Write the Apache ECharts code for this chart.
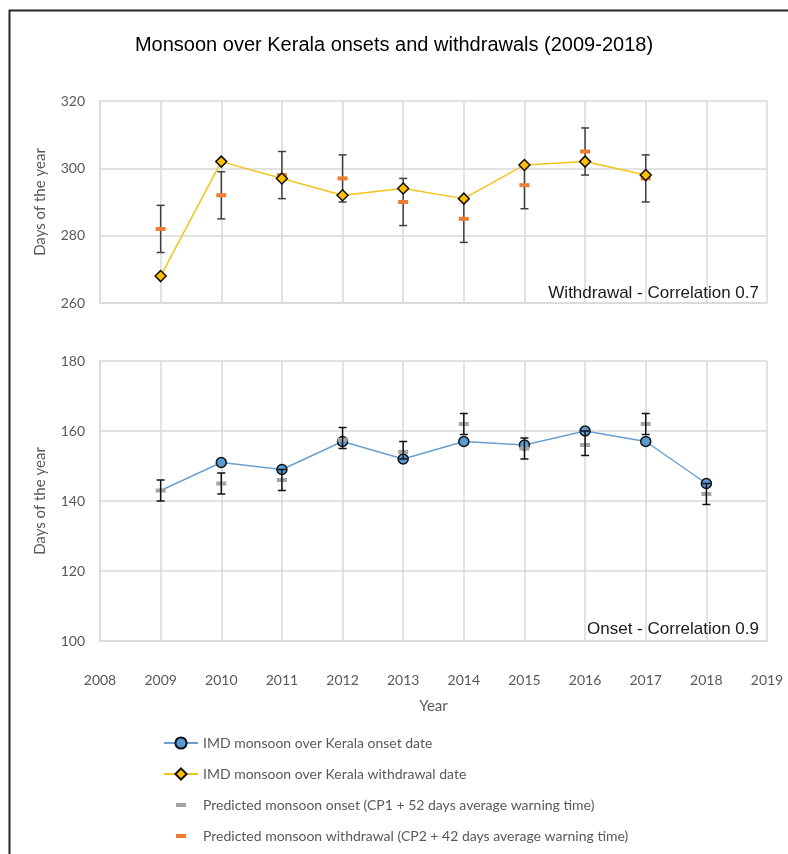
<!DOCTYPE html>
<html>
<head>
<meta charset="utf-8">
<title>Monsoon over Kerala onsets and withdrawals</title>
<script src="https://cdn.jsdelivr.net/npm/echarts@6/dist/echarts.min.js"></script>
<style>
html,body{margin:0;padding:0;background:#fff;}
#main{width:788px;height:854px;}
</style>
</head>
<body>
<div id="main"></div>
<script>
// ---------- data ----------
var onsetYears = [2009, 2010, 2011, 2012, 2013, 2014, 2015, 2016, 2017, 2018];
var onsetDay = [143, 151, 149, 157, 152, 157, 156, 160, 157, 145];
var onsetPred = [143, 145, 146, 157.5, 154, 162, 155, 156, 162, 142];
var onsetErrLow = [140, 142, 143, 155, 152, 159, 152, 153, 159, 139];
var onsetErrHigh = [146, 148, 149, 161, 157, 165, 158, 160, 165, 145];

var wdYears = [2009, 2010, 2011, 2012, 2013, 2014, 2015, 2016, 2017];
var wdDay = [268, 302, 297, 292, 294, 291, 301, 302, 298];
var wdPred = [282, 292, 298, 297, 290, 285, 295, 305, 297];
var wdErrLow = [275, 285, 291, 290, 283, 278, 288, 298, 290];
var wdErrHigh = [289, 299, 305, 304, 297, 291, 301, 312, 304];

var seriesNames = [
	'IMD monsoon over Kerala onset date',
	'IMD monsoon over Kerala withdrawal date',
	'Predicted monsoon onset (CP1 + 52 days average warning time)',
	'Predicted monsoon withdrawal (CP2 + 42 days average warning time)'
];

var chartTitle = 'Monsoon over Kerala onsets and withdrawals (2009-2018)';
var wdNote = 'Withdrawal - Correlation 0.7';
var onsetNote = 'Onset - Correlation 0.9';

var gridColor = '#d9d9d9';
var labelColor = '#595959';
var sansFont = '"Liberation Sans", Arial, sans-serif';
var dashIcon = 'path://M0,0M34,14M12,5h10v4h-10z';

var myChart = null;

function toPoints(xs, ys){
	var arr = [];
	for(var i=0;i<xs.length;i++){
		arr.push([xs[i], ys[i]]);
	}
	return arr;
}

function toErrors(xs, lo, hi){
	var arr = [];
	for(var i=0;i<xs.length;i++){
		arr.push([xs[i], lo[i], hi[i]]);
	}
	return arr;
}

//误差线：竖线加上下两个短横
function errorBarRender(color){
	return function(params, api){
		var x = api.value(0);
		var hi = api.coord([x, api.value(2)]);
		var lo = api.coord([x, api.value(1)]);
		var half = 4;
		var st = {stroke: color, lineWidth: 1.5};
		return {
			type: 'group',
			children: [
				{type: 'line', shape: {x1: hi[0], y1: hi[1], x2: lo[0], y2: lo[1]}, style: st},
				{type: 'line', shape: {x1: hi[0]-half, y1: hi[1], x2: hi[0]+half, y2: hi[1]}, style: st},
				{type: 'line', shape: {x1: lo[0]-half, y1: lo[1], x2: lo[0]+half, y2: lo[1]}, style: st}
			]
		};
	};
}

function xAxisCfg(gridIndex, withLabels){
	return {
		type: 'value', gridIndex: gridIndex, min: 2008, max: 2019, interval: 1,
		axisLine: {show: true, lineStyle: {color: gridColor, width: 1.5}},
		axisTick: {show: false},
		splitLine: {show: true, lineStyle: {color: gridColor, width: 1.5}},
		axisLabel: {
			show: withLabels, margin: 32, color: labelColor, fontSize: 14, fontFamily: 'Lato',
			formatter: function(v){ return String(v); }
		},
		name: withLabels ? 'Year' : '',
		nameLocation: 'middle', nameGap: 58,
		nameTextStyle: {color: labelColor, fontSize: 15, fontFamily: 'Lato'}
	};
}

function yAxisCfg(gridIndex, min, max){
	return {
		type: 'value', gridIndex: gridIndex, min: min, max: max, interval: 20,
		axisLine: {show: true, lineStyle: {color: gridColor, width: 1.5}},
		axisTick: {show: false},
		splitLine: {show: true, lineStyle: {color: gridColor, width: 1.5}},
		axisLabel: {margin: 15, color: labelColor, fontSize: 14, fontFamily: 'Lato'},
		name: 'Days of the year',
		nameLocation: 'middle', nameGap: 52,
		nameTextStyle: {color: labelColor, fontSize: 15, fontFamily: 'Lato'}
	};
}

function createChart(){
	myChart = echarts.init(document.getElementById('main'), null, {renderer: 'canvas'});

	var onsetPts = toPoints(onsetYears, onsetDay);
	//2009年的实测点在原图中被预测短横遮住，不画圆点
	onsetPts[0] = {value: onsetPts[0], symbol: 'none'};

	var options = {
		backgroundColor: '#fff',
		animation: false,
		title: [
			{text: chartTitle, left: 'center', top: 30,
				textStyle: {fontSize: 20, fontWeight: 'normal', color: '#000', fontFamily: sansFont}},
			{text: wdNote, right: 24, top: 280,
				textStyle: {fontSize: 17, fontWeight: 'normal', color: '#1a1a1a', fontFamily: sansFont}},
			{text: onsetNote, right: 24, top: 616,
				textStyle: {fontSize: 17, fontWeight: 'normal', color: '#1a1a1a', fontFamily: sansFont}}
		],
		graphic: [
			{type: 'rect', left: 7, top: 8, z: 100, silent: true,
				shape: {width: 800, height: 870},
				style: {fill: 'none', stroke: '#262626', lineWidth: 2}}
		],
		legend: {
			orient: 'vertical', left: 158, top: 731,
			itemWidth: 34, itemHeight: 14, itemGap: 17,
			textStyle: {color: labelColor, fontSize: 14, fontFamily: 'Lato'},
			data: [
				{name: seriesNames[0]},
				{name: seriesNames[1]},
				{name: seriesNames[2], icon: dashIcon},
				{name: seriesNames[3], icon: dashIcon}
			]
		},
		grid: [
			{left: 100, top: 101, width: 667, height: 202},
			{left: 100, top: 361, width: 667, height: 280}
		],
		xAxis: [xAxisCfg(0, false), xAxisCfg(1, true)],
		yAxis: [yAxisCfg(0, 260, 320), yAxisCfg(1, 100, 180)],
		series: [
			{
				name: seriesNames[0], type: 'line', xAxisIndex: 1, yAxisIndex: 1,
				data: onsetPts, symbol: 'circle', symbolSize: 10, z: 2,
				lineStyle: {color: '#6a9fd2', width: 1.5},
				itemStyle: {color: '#5b9bd5', borderColor: '#111', borderWidth: 1.5}
			},
			{
				name: seriesNames[1], type: 'line', xAxisIndex: 0, yAxisIndex: 0,
				data: toPoints(wdYears, wdDay), symbol: 'diamond', symbolSize: 11, z: 3,
				lineStyle: {color: '#f2c318', width: 1.5},
				itemStyle: {color: '#ffc000', borderColor: '#111', borderWidth: 1.5}
			},
			{
				name: seriesNames[2], type: 'scatter', xAxisIndex: 1, yAxisIndex: 1,
				data: toPoints(onsetYears, onsetPred), symbol: 'rect', symbolSize: [10, 4], z: 4,
				itemStyle: {color: '#a5a5a5', opacity: 1}
			},
			{
				name: seriesNames[3], type: 'scatter', xAxisIndex: 0, yAxisIndex: 0,
				data: toPoints(wdYears, wdPred), symbol: 'rect', symbolSize: [10, 4], z: 2,
				itemStyle: {color: '#ed7d31', opacity: 1}
			},
			{
				name: 'onsetErr', type: 'custom', xAxisIndex: 1, yAxisIndex: 1, z: 5,
				renderItem: errorBarRender('#111'),
				encode: {x: 0, y: [1, 2]},
				data: toErrors(onsetYears, onsetErrLow, onsetErrHigh)
			},
			{
				name: 'wdErr', type: 'custom', xAxisIndex: 0, yAxisIndex: 0, z: 1,
				renderItem: errorBarRender('#404040'),
				encode: {x: 0, y: [1, 2]},
				data: toErrors(wdYears, wdErrLow, wdErrHigh)
			}
		]
	};
	myChart.setOption(options);
}

createChart();
</script>
</body>
</html>
